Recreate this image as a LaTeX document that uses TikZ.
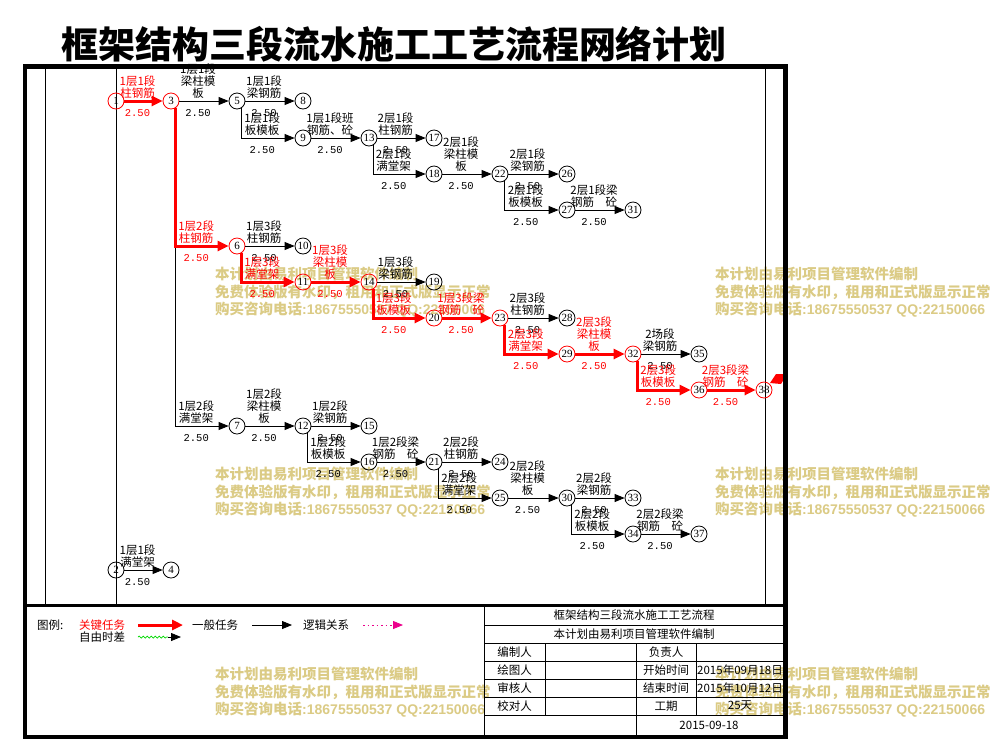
\documentclass[tikz,border=0pt]{standalone}
\usepackage{fontspec}
\setmainfont{Noto Sans CJK SC}
\newfontfamily\numfont{Liberation Serif}
\newfontfamily\durfont{Liberation Mono}
\newfontfamily\wmlatin{Liberation Sans}
\usetikzlibrary{arrows.meta,calc,decorations.pathmorphing}
\definecolor{wm}{RGB}{219,203,133}
\tikzset{
  ev/.style={circle, draw, line width=0.8pt, minimum size=16pt, inner sep=0pt, font=\numfont\fontsize{11}{11}\selectfont},
  evc/.style={ev, draw=red},
  job/.style={-{Triangle[length=10pt,width=8pt]}, line width=0.8pt, black},
  cjob/.style={-{Triangle[length=11pt,width=10pt]}, line width=3pt, red},
  lab/.style={anchor=south, inner sep=0pt, align=center, font=\fontsize{11.5}{12}\selectfont},
  dur/.style={inner sep=0pt, font=\durfont\fontsize{10.5}{10.5}\selectfont},
  leg/.style={inner sep=0pt, anchor=west, font=\fontsize{11.5}{12}\selectfont},
  tab/.style={inner sep=0pt, font=\fontsize{11.5}{12}\selectfont},
  wmk/.style={inner sep=0pt, anchor=west, text=wm, font=\bfseries\fontsize{14.5}{15}\selectfont},
  frame/.style={line width=4.5pt, black},
  thinln/.style={line width=0.8pt, black}
}
\newcommand\hjob[5]{%
  \draw[#1] (#2) -- (#3);
  \path ($(#2.east)!0.5!(#3.west)$) ++(-6,0) coordinate (m);
  \node[lab,text=#5] (l#2#3) at ([yshift=2.5pt]m) {#4};
  \node[dur,text=#5] (d#2#3) at ([yshift=-12pt]m) {2.50};
}
\newcommand\djob[5]{%
  \draw[#1] (#2.-55) |- (#3);
  \path ($(#2.-55 |- #3.west)!0.5!(#3.west)$) ++(-6,0) coordinate (m);
  \node[lab,text=#5] (l#2#3) at ([yshift=2.5pt]m) {#4};
  \node[dur,text=#5] (d#2#3) at ([yshift=-12pt]m) {2.50};
}
\newcommand\wmark[3]{%
  \node[wmk] (#3a) at (#1,#2) {本计划由易利项目管理软件编制};
  \node[wmk] (#3b) at (#1,#2+18) {免费体验版有水印，租用和正式版显示正常};
  \node[wmk] (#3c) at (#1,#2+36) {购买咨询电话{\wmlatin\bfseries\fontsize{14}{15}\selectfont:18675550537 QQ:22150066}};
}
\begin{document}
\begin{tikzpicture}[x=1pt,y=-1pt]
\useasboundingbox (0,0) rectangle (999,740);
\fill[white] (0,0) rectangle (999,740);

% watermarks
\wmark{215}{274}{wA}
\wmark{715}{274}{wB}
\wmark{215}{474}{wC}
\wmark{715}{474}{wD}
\wmark{215}{674}{wE}
\wmark{715}{674}{wF}

% title
\node[inner sep=0pt, font=\bfseries\fontsize{37}{37}\selectfont] (title) at (394,44) {框架结构三段流水施工工艺流程网络计划};

% thin inner lines
\draw[thinln] (45,68) -- (45,604);
\draw[thinln] (116,68) -- (116,604);
\draw[thinln] (765,68) -- (765,604);

% events
\node[evc] (n1) at (116,101) {1};
\node[evc] (n3) at (171,101) {3};
\node[ev] (n5) at (237,101) {5};
\node[ev] (n8) at (303,101) {8};
\node[ev] (n9) at (303,138) {9};
\node[ev] (n13) at (369,138) {13};
\node[ev] (n17) at (434,138) {17};
\node[ev] (n18) at (434,174) {18};
\node[ev] (n22) at (500,174) {22};
\node[ev] (n26) at (567,174) {26};
\node[ev] (n27) at (567,210) {27};
\node[ev] (n31) at (633,210) {31};
\node[evc] (n6) at (237,246) {6};
\node[ev] (n10) at (303,246) {10};
\node[evc] (n11) at (303,282) {11};
\node[evc] (n14) at (369,282) {14};
\node[ev] (n19) at (434,282) {19};
\node[evc] (n20) at (434,318) {20};
\node[evc] (n23) at (500,318) {23};
\node[ev] (n28) at (567,318) {28};
\node[evc] (n29) at (567,354) {29};
\node[evc] (n32) at (633,354) {32};
\node[ev] (n35) at (699,354) {35};
\node[evc] (n36) at (699,390) {36};
\node[evc] (n38) at (764,390) {38};
\node[ev] (n7) at (237,426) {7};
\node[ev] (n12) at (303,426) {12};
\node[ev] (n15) at (369,426) {15};
\node[ev] (n16) at (369,462) {16};
\node[ev] (n21) at (434,462) {21};
\node[ev] (n24) at (500,462) {24};
\node[ev] (n25) at (500,498) {25};
\node[ev] (n30) at (567,498) {30};
\node[ev] (n33) at (633,498) {33};
\node[ev] (n34) at (633,534) {34};
\node[ev] (n37) at (699,534) {37};
\node[ev] (n2) at (116,570) {2};
\node[ev] (n4) at (171,570) {4};

% end flag
\fill[red] (770,383) -- (776,374) -- (787,374) -- (781,384) -- cycle;

% ordinary jobs
\hjob{job}{n3}{n5}{1层1段\\梁柱模\\板}{black}
\hjob{job}{n5}{n8}{1层1段\\梁钢筋}{black}
\djob{job}{n5}{n9}{1层1段\\板模板}{black}
\hjob{job}{n9}{n13}{1层1段班\\钢筋、砼}{black}
\hjob{job}{n13}{n17}{2层1段\\柱钢筋}{black}
\djob{job}{n13}{n18}{2层1段\\满堂架}{black}
\hjob{job}{n18}{n22}{2层1段\\梁柱模\\板}{black}
\hjob{job}{n22}{n26}{2层1段\\梁钢筋}{black}
\djob{job}{n22}{n27}{2层1段\\板模板}{black}
\hjob{job}{n27}{n31}{2层1段梁\\钢筋　砼}{black}
\hjob{job}{n6}{n10}{1层3段\\柱钢筋}{black}
\hjob{job}{n14}{n19}{1层3段\\梁钢筋}{black}
\hjob{job}{n23}{n28}{2层3段\\柱钢筋}{black}
\hjob{job}{n32}{n35}{2场段\\梁钢筋}{black}
\djob{job}{n3}{n7}{1层2段\\满堂架}{black}
\hjob{job}{n7}{n12}{1层2段\\梁柱模\\板}{black}
\hjob{job}{n12}{n15}{1层2段\\梁钢筋}{black}
\djob{job}{n12}{n16}{1层2段\\板模板}{black}
\hjob{job}{n16}{n21}{1层2段梁\\钢筋　砼}{black}
\hjob{job}{n21}{n24}{2层2段\\柱钢筋}{black}
\djob{job}{n21}{n25}{2层2段\\满堂架}{black}
\hjob{job}{n25}{n30}{2层2段\\梁柱模\\板}{black}
\hjob{job}{n30}{n33}{2层2段\\梁钢筋}{black}
\djob{job}{n30}{n34}{2层2段\\板模板}{black}
\hjob{job}{n34}{n37}{2层2段梁\\钢筋　砼}{black}
\hjob{job}{n2}{n4}{1层1段\\满堂架}{black}

% critical jobs
\hjob{cjob}{n1}{n3}{1层1段\\柱钢筋}{red}
\djob{cjob}{n3}{n6}{1层2段\\柱钢筋}{red}
\djob{cjob}{n6}{n11}{1层3段\\满堂架}{red}
\hjob{cjob}{n11}{n14}{1层3段\\梁柱模\\板}{red}
\djob{cjob}{n14}{n20}{1层3段\\板模板}{red}
\hjob{cjob}{n20}{n23}{1层3段梁\\钢筋　砼}{red}
\djob{cjob}{n23}{n29}{2层3段\\满堂架}{red}
\hjob{cjob}{n29}{n32}{2层3段\\梁柱模\\板}{red}
\djob{cjob}{n32}{n36}{2层3段\\板模板}{red}
\hjob{cjob}{n36}{n38}{2层3段梁\\钢筋　砼}{red}

% legend
\node[leg] (lg0) at (37,625) {图例:};
\node[leg,text=red] (lg1) at (79,625) {关键任务};
\node[leg] (lg2) at (79,637) {自由时差};
\coordinate (a1) at (138,625); \coordinate (a2) at (183,625);
\draw[cjob] (a1) -- (a2);
\node[leg] (lg3) at (192,625) {一般任务};
\coordinate (b1) at (252,625); \coordinate (b2) at (292,625);
\draw[job] (b1) -- (b2);
\node[leg] (lg4) at (303,625) {逻辑关系};
\coordinate (c1) at (363,625); \coordinate (c2) at (403,625);
\draw[magenta, line width=0.8pt, dash pattern=on 1.5pt off 3pt, -{Triangle[length=10pt,width=8pt]}] (c1) -- (c2);
\coordinate (e1) at (138,637); \coordinate (e2) at (168,637); \coordinate (e3) at (181,637);
\draw[green!85!black, line width=0.7pt, decorate, decoration={snake,amplitude=1pt,segment length=4pt}] (e1) -- (e2);
\draw[job] (e2) -- (e3);

% table
\draw[thinln] (484,605) -- (484,738);
\foreach \yy in {625,643,661,679,697,715} \draw[thinln] (484,\yy) -- (785,\yy);
\draw[thinln] (545,643) -- (545,715);
\draw[thinln] (636,643) -- (636,738);
\draw[thinln] (696,643) -- (696,715);
\node[tab] (t1) at (634,615.5) {框架结构三段流水施工工艺流程};
\node[tab] (t2) at (634,634) {本计划由易利项目管理软件编制};
\node[tab] (t3) at (514.5,652) {编制人};
\node[tab] (t4) at (514.5,670) {绘图人};
\node[tab] (t5) at (514.5,688) {审核人};
\node[tab] (t6) at (514.5,706) {校对人};
\node[tab] (t7) at (666,652) {负责人};
\node[tab] (t8) at (666,670) {开始时间};
\node[tab] (t9) at (666,688) {结束时间};
\node[tab] (t10) at (666,706) {工期};
\node[tab] (t11) at (740,670) {2015年09月18日};
\node[tab] (t12) at (740,688) {2015年10月12日};
\node[tab] (t13) at (740,706) {25天};
\node[tab] (t14) at (709,725) {2015-09-18};

% frame
\draw[line width=3pt] (25,605) -- (785,605);
\draw[frame] (25,66.5) rectangle (785.5,737);
\end{tikzpicture}
\end{document}
